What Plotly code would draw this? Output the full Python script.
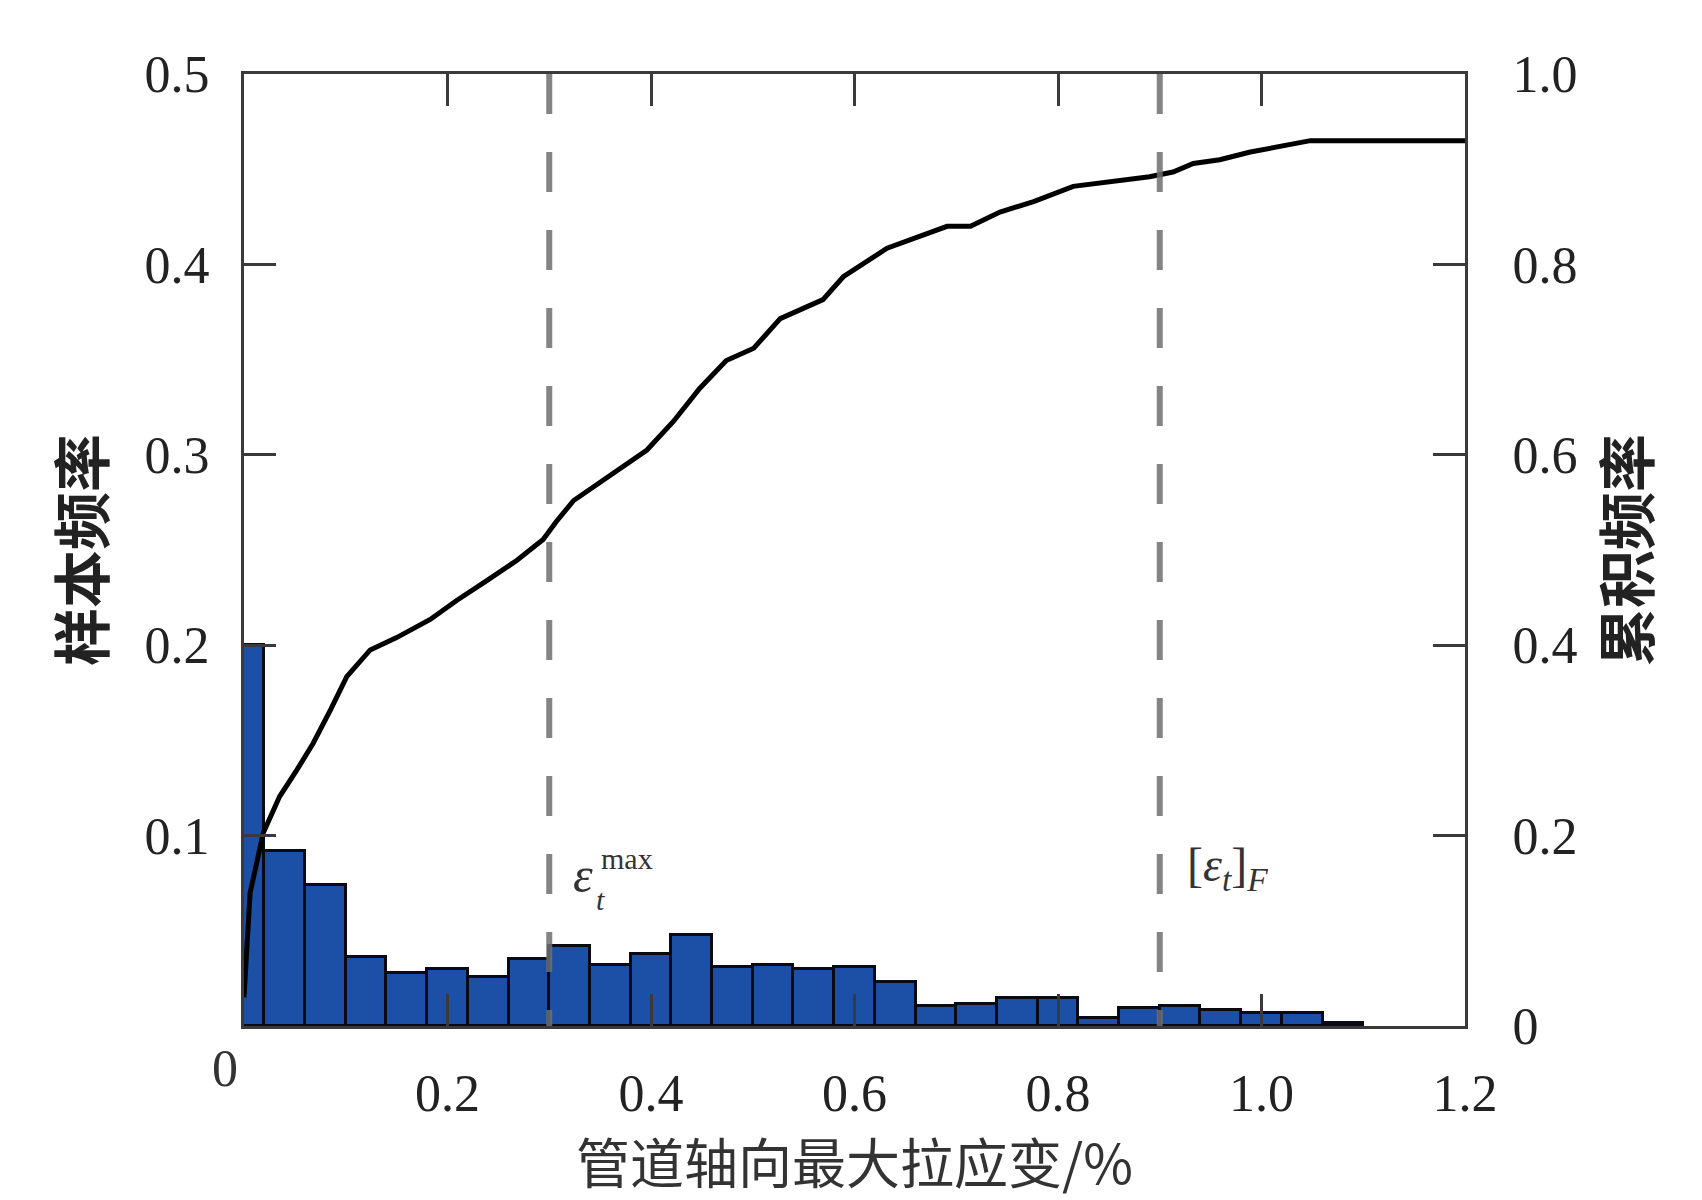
import plotly.graph_objects as go

# Histogram (sample frequency), bins of width 0.04 centred at 0, 0.04, ...
bin_centers = [0.00, 0.04, 0.08, 0.12, 0.16, 0.20, 0.24, 0.28, 0.32, 0.36,
               0.40, 0.44, 0.48, 0.52, 0.56, 0.60, 0.64, 0.68, 0.72, 0.76,
               0.80, 0.84, 0.88, 0.92, 0.96, 1.00, 1.04, 1.08]
sample_freq = [0.200, 0.092, 0.074, 0.036, 0.028, 0.030, 0.026, 0.035, 0.042, 0.032,
               0.038, 0.048, 0.031, 0.032, 0.030, 0.031, 0.023, 0.0105, 0.0116, 0.0145,
               0.0145, 0.004, 0.0093, 0.0105, 0.0084, 0.007, 0.0068, 0.0018]

# Cumulative frequency curve
cum_x = [0.0, 0.006, 0.019, 0.035, 0.052, 0.068, 0.085, 0.101, 0.124, 0.150,
         0.183, 0.209, 0.239, 0.268, 0.294, 0.307, 0.324, 0.356, 0.396, 0.422,
         0.448, 0.474, 0.501, 0.527, 0.569, 0.589, 0.632, 0.691, 0.714, 0.743,
         0.776, 0.815, 0.858, 0.890, 0.913, 0.933, 0.959, 0.989, 1.048, 1.2]
cum_y = [0.03, 0.14, 0.203, 0.241, 0.269, 0.297, 0.332, 0.367, 0.395, 0.408,
         0.427, 0.447, 0.468, 0.489, 0.511, 0.530, 0.552, 0.575, 0.605, 0.635,
         0.670, 0.699, 0.712, 0.743, 0.763, 0.787, 0.817, 0.840, 0.840, 0.855,
         0.866, 0.882, 0.887, 0.892, 0.897, 0.906, 0.910, 0.918, 0.930, 0.930]

ref_lines = [0.3, 0.9]

x_ticks = [0.2, 0.4, 0.6, 0.8, 1.0, 1.2]
x_ticktext = ["0.2", "0.4", "0.6", "0.8", "1.0", "1.2"]
yl_ticks = [0.1, 0.2, 0.3, 0.4, 0.5]
yl_ticktext = ["0.1", "0.2", "0.3", "0.4", "0.5"]
yr_ticks = [0, 0.2, 0.4, 0.6, 0.8, 1.0]
yr_ticktext = ["0", "0.2", "0.4", "0.6", "0.8", "1.0"]

NUM_FONT = "Liberation Serif"
CJK_FONT = "Noto Sans CJK SC"
AXIS_COLOR = "#3a3a3a"

fig = go.Figure()
fig.add_trace(go.Bar(
    x=bin_centers, y=sample_freq, width=0.04,
    marker=dict(color="#1c4fa6", line=dict(color="#0a0a14", width=3)),
    yaxis="y", showlegend=False,
))
fig.add_trace(go.Scatter(
    x=cum_x, y=cum_y, mode="lines", yaxis="y2",
    line=dict(color="black", width=5), showlegend=False,
))

for xv in ref_lines:
    fig.add_shape(type="line", xref="x", yref="paper", x0=xv, x1=xv, y0=1, y1=0,
                  line=dict(color="rgba(110,110,110,0.85)", width=6, dash="40px,38px"),
                  layer="above")

axis_common = dict(
    showline=True, linecolor=AXIS_COLOR, linewidth=3,
    ticks="inside", ticklen=32, tickwidth=3, tickcolor=AXIS_COLOR,
    showgrid=False, zeroline=False,
    tickfont=dict(family=NUM_FONT, size=52, color="#222"),
)

# page body has an 8px default margin, so the figure is 8px smaller each way
fig.update_layout(
    width=1694, height=1192,
    margin=dict(l=236, r=237, t=66, b=174),
    paper_bgcolor="white", plot_bgcolor="white",
    bargap=0,
    xaxis=dict(range=[0, 1.2], tickvals=x_ticks, ticktext=x_ticktext,
               mirror="ticks", ticklabelstandoff=20,
               title=dict(text="管道轴向最大拉应变/%",
                          font=dict(family=CJK_FONT, size=54, color="#333"),
                          standoff=24),
               **axis_common),
    yaxis=dict(range=[0, 0.5], tickvals=yl_ticks, ticktext=yl_ticktext,
               ticklabelstandoff=21,
               title=dict(text="<b>样本频率</b>",
                          font=dict(family=CJK_FONT, size=58, color="#222"),
                          standoff=22),
               **axis_common),
    yaxis2=dict(range=[0, 1.0], tickvals=yr_ticks, ticktext=yr_ticktext,
                overlaying="y", side="right", ticklabelstandoff=34,
                title=dict(text="<b>累积频率</b>",
                           font=dict(family=CJK_FONT, size=58, color="#222"),
                           standoff=32),
                **axis_common),
)

ann_font = dict(family=NUM_FONT, color="#333")
fig.add_annotation(x=0, y=0, xref="paper", yref="paper", xanchor="right", yanchor="top",
                   xshift=-4, yshift=-12, text="0", showarrow=False,
                   font=dict(size=52, **ann_font))
fig.add_annotation(x=0.333, y=0.0793, xref="x", yref="y", text="<i>ε</i>", showarrow=False,
                   font=dict(size=50, **ann_font))
fig.add_annotation(x=0.376, y=0.0880, xref="x", yref="y", text="max", showarrow=False,
                   font=dict(size=30, **ann_font))
fig.add_annotation(x=0.350, y=0.0665, xref="x", yref="y", text="<i>t</i>", showarrow=False,
                   font=dict(size=30, **ann_font))
fig.add_annotation(x=0.925, y=0.083, xref="x", yref="y", xanchor="left",
                   text="[<i>ε</i><sub><i>t</i></sub>]<sub><i>F</i></sub>", showarrow=False,
                   font=dict(size=48, **ann_font))

fig.write_html("out.html")
